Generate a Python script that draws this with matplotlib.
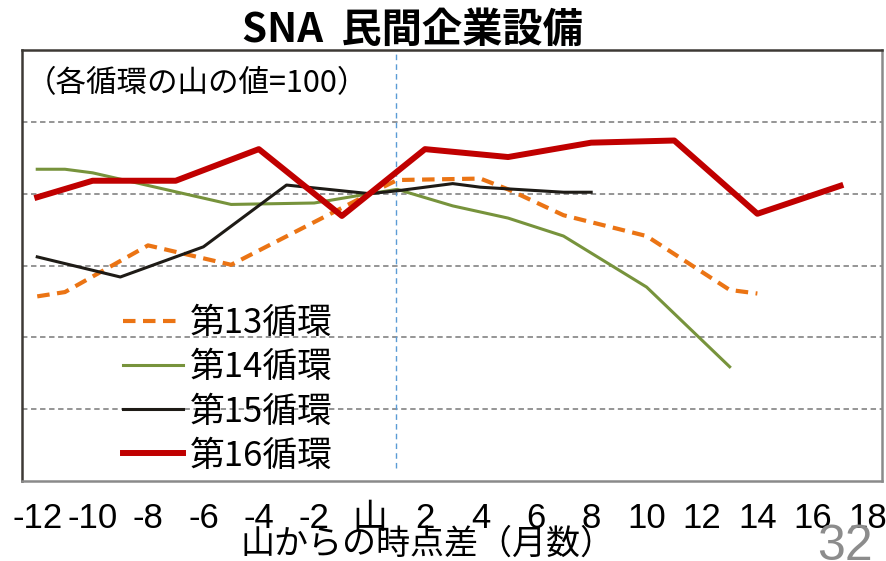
import matplotlib
matplotlib.use('Agg')
import matplotlib.pyplot as plt
from matplotlib import font_manager

# 各循環の推移（山=100）
months_13 = [-12, -11, -8, -5, 0, 1, 4, 5, 7, 10, 13, 14]
cycle_13 = [85.7, 86.3, 92.8, 90.1, 100.0, 101.9, 102.1, 100.6, 97.0, 94.1, 86.6, 86.1]

months_14 = [-12, -11, -10, -5, -2, 0, 1, 3, 5, 7, 10, 13]
cycle_14 = [103.4, 103.4, 102.9, 98.5, 98.7, 100.0, 100.6, 98.3, 96.6, 94.1, 87.0, 75.9]

months_15 = [-12, -9, -6, -3, 0, 1, 3, 4, 7, 8]
cycle_15 = [91.2, 88.4, 92.6, 101.2, 100.0, 100.4, 101.4, 100.9, 100.2, 100.2]

months_16 = [-12, -10, -7, -4, -1, 2, 5, 8, 11, 14, 17]
cycle_16 = [99.5, 101.8, 101.8, 106.2, 96.9, 106.2, 105.1, 107.1, 107.4, 97.2, 101.1]

labels = ['第13循環', '第14循環', '第15循環', '第16循環']
x_ticks = [-12, -10, -8, -6, -4, -2, 0, 2, 4, 6, 8, 10, 12, 14, 16, 18]
x_ticklabels = ['-12', '-10', '-8', '-6', '-4', '-2', '山', '2', '4', '6', '8',
                '10', '12', '14', '16', '18']
y_grid = [70, 80, 90, 100, 110]

jp = 'Noto Sans CJK JP'
installed = {f.name for f in font_manager.fontManager.ttflist}
narrow = 'Liberation Sans Narrow' if 'Liberation Sans Narrow' in installed else 'Liberation Sans'
plt.rcParams['font.family'] = [jp, 'DejaVu Sans']

fig = plt.figure(figsize=(8.87, 5.61), dpi=100)
ax = fig.add_axes([22 / 887, 1 - 481 / 561, 860 / 887, 431 / 561])

ax.plot(months_13, cycle_13, color='#EB7414', lw=3, ls=(0, (3, 1.8)), label=labels[0])
ax.plot(months_14, cycle_14, color='#77933C', lw=2.2, label=labels[1])
ax.plot(months_15, cycle_15, color='#1E1B16', lw=2.2, label=labels[2])
ax.plot(months_16, cycle_16, color='#C00000', lw=4.3, label=labels[3])

for g in y_grid:
    ax.axhline(g, color='#8c8c8c', lw=1.3, ls=(0, (3, 2)), zorder=0)
ax.axvline(0.94, ymin=0.03, ymax=1, color='#5B9BD5', lw=1, ls=(0, (4, 3)), zorder=0)

ax.set_xlim(-12.55, 18.5)
ax.set_ylim(60, 120)
ax.set_yticks([])
ax.set_xticks(x_ticks)
ax.set_xticklabels(x_ticklabels, family=[narrow, jp], fontsize=25)
ax.tick_params(axis='x', length=0, pad=15)

for side in ['left', 'top']:
    ax.spines[side].set_color('#3d3935')
for side in ['right', 'bottom']:
    ax.spines[side].set_color('#8a8a8a')
for s in ax.spines.values():
    s.set_linewidth(1.8)

ax.text(0.004, 0.923, '（各循環の山の値=100）', transform=ax.transAxes,
        fontsize=22, va='center', ha='left')

ax.legend(loc='upper left', bbox_to_anchor=(0.117, 0.405), frameon=False,
          fontsize=25, handlelength=1.75, handletextpad=0.2,
          labelspacing=0.26, borderpad=0, borderaxespad=0)

fig.text(427 / 887, 1 - 544 / 561, '山からの時点差（月数）', fontsize=24.5,
         ha='center', va='center')
fig.text(412 / 887, 1 - 30 / 561, 'SNA  民間企業設備', fontsize=29,
         fontweight='bold', ha='center', va='center')
fig.text(845 / 887, 1 - 524 / 561, '32', fontsize=36, color='#8c8c8c',
         family=[narrow], ha='center', va='top')

fig.savefig('out.png', dpi=100)
